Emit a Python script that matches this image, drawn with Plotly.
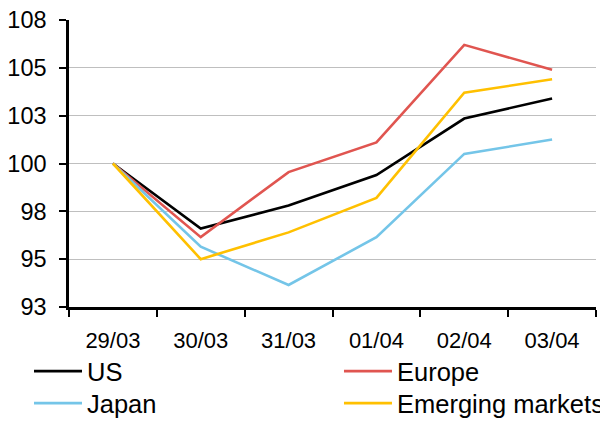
import plotly.graph_objects as go

dates = ["29/03", "30/03", "31/03", "01/04", "02/04", "03/04"]
us = [100, 96.6, 97.8, 99.4, 102.35, 103.4]
europe = [100, 96.15, 99.55, 101.1, 106.2, 104.9]
japan = [100, 95.65, 93.65, 96.15, 100.5, 101.25]
emerging = [100, 95.0, 96.4, 98.2, 103.7, 104.4]

y_ticks = [92.5, 95, 97.5, 100, 102.5, 105, 107.5]
y_labels = ["93", "95", "98", "100", "103", "105", "108"]

series = [
    ("US", us, "#000000", "legend"),
    ("Europe", europe, "#E05550", "legend2"),
    ("Japan", japan, "#74C5E8", "legend3"),
    ("Emerging markets", emerging, "#FFC000", "legend4"),
]

fig = go.Figure()
for name, vals, color, lg in series:
    fig.add_trace(go.Scatter(x=dates, y=vals, name=name, mode="lines", legend=lg,
                             line=dict(color=color, width=2.6)))

leg_common = dict(orientation="v", yanchor="top", xanchor="left",
                  tracegroupgap=0, font=dict(size=25.5), itemwidth=48,
                  bgcolor="rgba(0,0,0,0)")
col1, col2 = -0.0759, 0.5123
row1, row2 = -0.1429, -0.2544

fig.update_layout(
    width=600, height=414,
    margin=dict(l=61, r=12, t=12, b=115, autoexpand=False),
    paper_bgcolor="white", plot_bgcolor="white",
    font=dict(family="Liberation Sans, Arial, sans-serif", color="black", size=22),
    showlegend=True,
    legend=dict(x=col1, y=row1, **leg_common),
    legend2=dict(x=col2, y=row1, **leg_common),
    legend3=dict(x=col1, y=row2, **leg_common),
    legend4=dict(x=col2, y=row2, **leg_common),
)
fig.update_xaxes(
    type="category", showline=True, linecolor="black", linewidth=2.5,
    ticks="outside", tickson="boundaries", ticklen=7, tickwidth=2, tickcolor="black",
    showgrid=False, tickfont=dict(size=22), ticklabelstandoff=12,
    range=[-0.5, 5.5],
)
fig.update_yaxes(
    range=[92.5, 107.5], tickvals=y_ticks, ticktext=y_labels,
    showline=True, linecolor="black", linewidth=2.5,
    ticks="outside", ticklen=7, tickwidth=2, tickcolor="black",
    showgrid=True, gridcolor="#BFBFBF", gridwidth=1.3, zeroline=False,
    tickfont=dict(size=23.5), ticklabelstandoff=8, ticklabeloverflow="allow",
)
fig.write_html("out.html")
